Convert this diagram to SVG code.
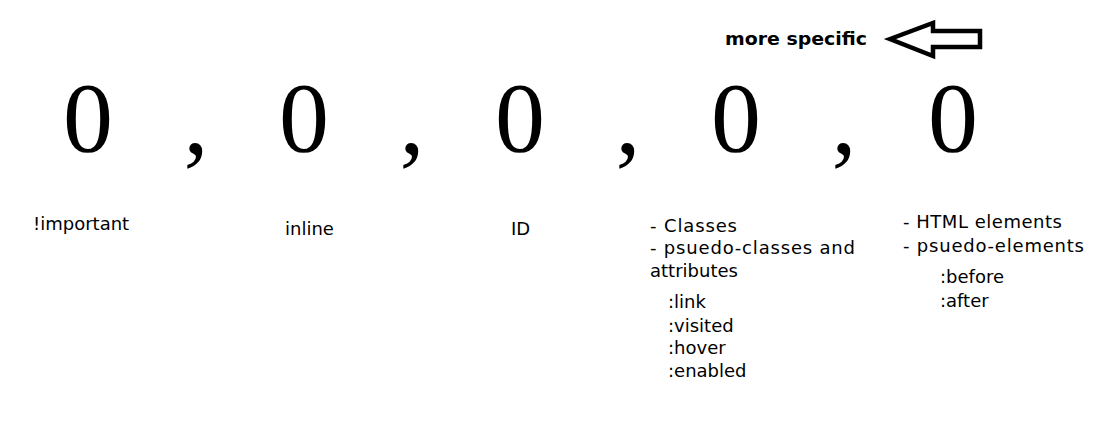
<svg xmlns="http://www.w3.org/2000/svg" width="1111" height="441" viewBox="0 0 1111 441">
<style>
.big{font-family:"Liberation Serif","Times New Roman",serif;font-size:100px;fill:#000;text-anchor:middle}
.lbl{font-family:"DejaVu Sans",Verdana,sans-serif;font-size:18px;fill:#000}
.hdr{font-family:"DejaVu Sans",sans-serif;font-size:17px;font-weight:bold;fill:#000}
.arrow{fill:#fff;stroke:#000;stroke-width:4.5;stroke-linejoin:miter}
</style>
<rect width="1111" height="441" fill="#fff"/>
<g id="header">
<text class="hdr" x="725" y="45" textLength="142" lengthAdjust="spacingAndGlyphs">more specific</text>
<polygon class="arrow" points="890,39 933,23 933,31 980,31 980,47 933,47 933,56"/>
</g>
<g id="digits">
<text class="big" x="88" y="151">0</text>
<text class="big" x="196" y="153">,</text>
<text class="big" x="304" y="151">0</text>
<text class="big" x="412" y="153">,</text>
<text class="big" x="520" y="151">0</text>
<text class="big" x="628" y="153">,</text>
<text class="big" x="736" y="151">0</text>
<text class="big" x="844" y="153">,</text>
<text class="big" x="953" y="151">0</text>
</g>
<g id="important"><text class="lbl" x="33" y="230">!important</text></g>
<g id="inline"><text class="lbl" x="285" y="235">inline</text></g>
<g id="id"><text class="lbl" x="511" y="235">ID</text></g>
<g id="classes">
<text class="lbl" x="650" y="232" textLength="87" lengthAdjust="spacing">- Classes</text>
<text class="lbl" x="650" y="254" textLength="205" lengthAdjust="spacing">- psuedo-classes and</text>
<text class="lbl" x="650" y="277">attributes</text>
<text class="lbl" x="668" y="308">:link</text>
<text class="lbl" x="668" y="332">:visited</text>
<text class="lbl" x="668" y="354">:hover</text>
<text class="lbl" x="668" y="377">:enabled</text>
</g>
<g id="elements">
<text class="lbl" x="903" y="228" textLength="159" lengthAdjust="spacing">- HTML elements</text>
<text class="lbl" x="903" y="252" textLength="181" lengthAdjust="spacing">- psuedo-elements</text>
<text class="lbl" x="940" y="283">:before</text>
<text class="lbl" x="940" y="307">:after</text>
</g>
<g id="connectors"></g>
</svg>
